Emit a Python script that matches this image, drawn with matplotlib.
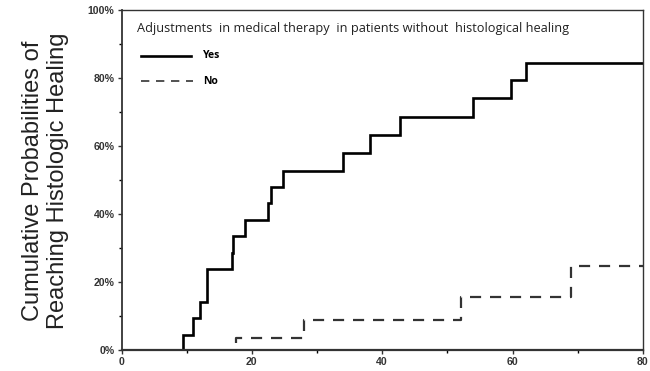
import numpy as np
import matplotlib
matplotlib.use("Agg")
import matplotlib.pyplot as plt
from matplotlib.ticker import MultipleLocator, FuncFormatter

# Kaplan-Meier style step data (time, cumulative % healed)
yes_time = [0, 9.4, 11.0, 12.0, 13.1, 17.0, 17.05, 19.0, 22.5, 23.0, 24.8, 34.0, 38.1, 42.7, 54.0, 59.7, 62.1, 80]
yes_pct = [0, 4.4, 9.5, 14.1, 23.8, 28.4, 33.5, 38.2, 43.1, 47.8, 52.7, 57.8, 63.2, 68.6, 74.1, 79.3, 84.5, 84.5]

no_time = [17.5, 17.5, 28.0, 52.1, 69.0, 80]
no_pct = [2.0, 3.5, 8.9, 15.5, 24.8, 24.8]

title = "Adjustments  in medical therapy  in patients without  histological healing"
ylabel = "Cumulative Probabilities of\nReaching Histologic Healing"

fig = plt.figure(figsize=(6.5, 3.71), dpi=100)
ax = fig.add_axes([0.187, 0.057, 0.802, 0.916])

ax.step(yes_time, yes_pct, where="post", color="black", lw=1.9, solid_joinstyle="miter")
ax.step(no_time, no_pct, where="post", color="#333333", lw=1.6, dashes=(5, 4))

ax.set_xlim(0, 80)
ax.set_ylim(0, 100)
ax.xaxis.set_major_locator(MultipleLocator(20))
ax.xaxis.set_minor_locator(MultipleLocator(10))
ax.yaxis.set_major_locator(MultipleLocator(20))
ax.yaxis.set_minor_locator(MultipleLocator(10))
ax.yaxis.set_major_formatter(FuncFormatter(lambda v, p: "%d%%" % v))
ax.tick_params(which="major", length=3, width=1, labelsize=7.6, colors="#333333", pad=2)
ax.tick_params(which="minor", length=2, width=1)
for lab in ax.get_xticklabels() + ax.get_yticklabels():
    lab.set_fontweight("bold")
    lab.set_family("Liberation Sans")
for sp in ax.spines.values():
    sp.set_linewidth(1.0)
    sp.set_color("#333333")
ax.spines["bottom"].set_linewidth(1.6)
ax.spines["left"].set_linewidth(1.3)

ax.text(0.029, 0.947, title, transform=ax.transAxes, fontsize=9.2,
        family="Open Sans", color="#222222", va="center", ha="left")

# legend drawn by hand inside the axes
ax.plot([0.038, 0.134], [0.865, 0.865], transform=ax.transAxes, color="black", lw=1.9)
ax.text(0.156, 0.865, "Yes", transform=ax.transAxes, fontsize=7.5, fontweight="bold",
        family="Open Sans", va="center")
ax.plot([0.038, 0.137], [0.791, 0.791], transform=ax.transAxes, color="#333333",
        lw=1.2, dashes=(5, 4))
ax.text(0.156, 0.791, "No", transform=ax.transAxes, fontsize=7.5, fontweight="bold",
        family="Open Sans", va="center")

fig.text(0.070, 0.513, ylabel, rotation=90, fontsize=17, family="Liberation Sans",
         ha="center", va="center", linespacing=1.2, color="#222222")

fig.savefig("out.png", dpi=100)
